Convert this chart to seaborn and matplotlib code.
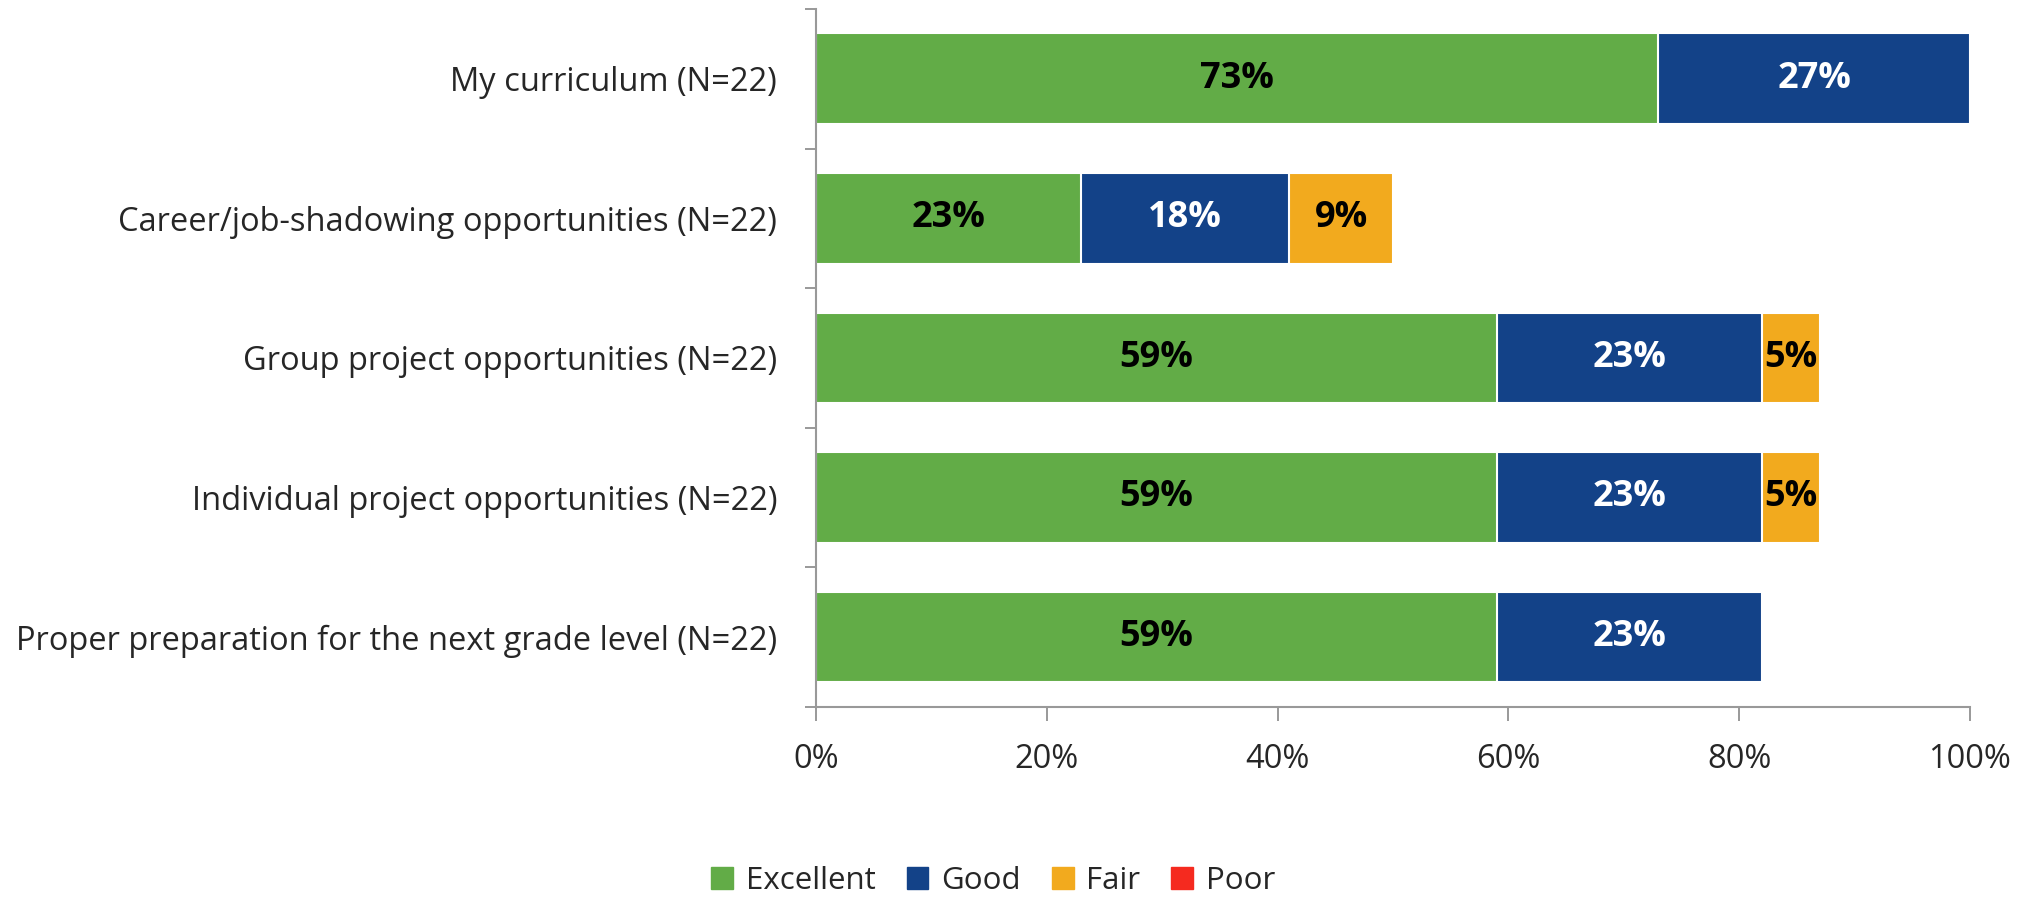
import matplotlib.pyplot as plt
import matplotlib.patches as mpatches
from matplotlib.ticker import FixedLocator
import seaborn as sns
import pandas as pd
import numpy as np

categories = ['My curriculum (N=22)',
              'Career/job-shadowing opportunities (N=22)',
              'Group project opportunities (N=22)',
              'Individual project opportunities (N=22)',
              'Proper preparation for the next grade level (N=22)']
excellent = [73, 23, 59, 59, 59]
good = [27, 18, 23, 23, 23]
fair = [0, 9, 5, 5, 0]
poor = [0, 0, 0, 0, 0]

series = ['Excellent', 'Good', 'Fair', 'Poor']
colors = ['#62ac47', '#134288', '#f2aa1e', '#f52a1f']
label_colors = ['black', 'white', 'black', 'white']

sns.set_style('white')
plt.rcParams['font.family'] = ['Open Sans', 'DejaVu Sans']

df = pd.DataFrame({'cat': categories, 'Excellent': excellent, 'Good': good,
                   'Fair': fair, 'Poor': poor})
cum = df[series].cumsum(axis=1)

fig = plt.figure(figsize=(20.35, 9.06), dpi=100)
ax = fig.add_axes([0.401, 0.22, 0.567, 0.77])

# stacked look: draw cumulative totals from the largest down
for s, c in reversed(list(zip(series, colors))):
    sns.barplot(x=cum[s], y=df['cat'], color=c, width=0.65, orient='h',
                saturation=1, edgecolor='white', linewidth=1.5,
                errorbar=None, ax=ax)

# segment labels
for i in range(len(categories)):
    left = 0
    for s, lc in zip(series, label_colors):
        v = df.loc[i, s]
        if v > 0:
            ax.text(left + v / 2, i, f'{v}%', ha='center', va='center',
                    color=lc, fontsize=26, fontweight='bold')
        left += v

ax.set_xlim(0, 100)
ax.set_ylim(4.5, -0.5)
ax.set_xlabel('')
ax.set_ylabel('')
ax.set_xticks([0, 20, 40, 60, 80, 100])
ax.set_xticklabels(['0%', '20%', '40%', '60%', '80%', '100%'], fontsize=23.5)
ax.tick_params(axis='x', length=10, width=1.2, color='#888888', pad=16,
               bottom=True, direction='out')
ax.tick_params(axis='y', which='major', length=0, pad=28, labelsize=23.5)
ax.yaxis.set_minor_locator(FixedLocator(np.arange(-0.5, 5, 1)))
ax.tick_params(axis='y', which='minor', length=8, width=1.2, color='#888888',
               left=True, direction='out')

for side in ['top', 'right']:
    ax.spines[side].set_visible(False)
for side in ['left', 'bottom']:
    ax.spines[side].set_color('#999999')
    ax.spines[side].set_linewidth(1.5)

handles = [mpatches.Patch(color=c, label=s) for s, c in zip(series, colors)]
fig.legend(handles=handles, loc='lower center', bbox_to_anchor=(0.488, -0.02),
           ncol=4, frameon=False, fontsize=22.5, handlelength=0.7,
           handleheight=0.7, handletextpad=0.4, columnspacing=1.0)

fig.savefig('out.png', dpi=100)
